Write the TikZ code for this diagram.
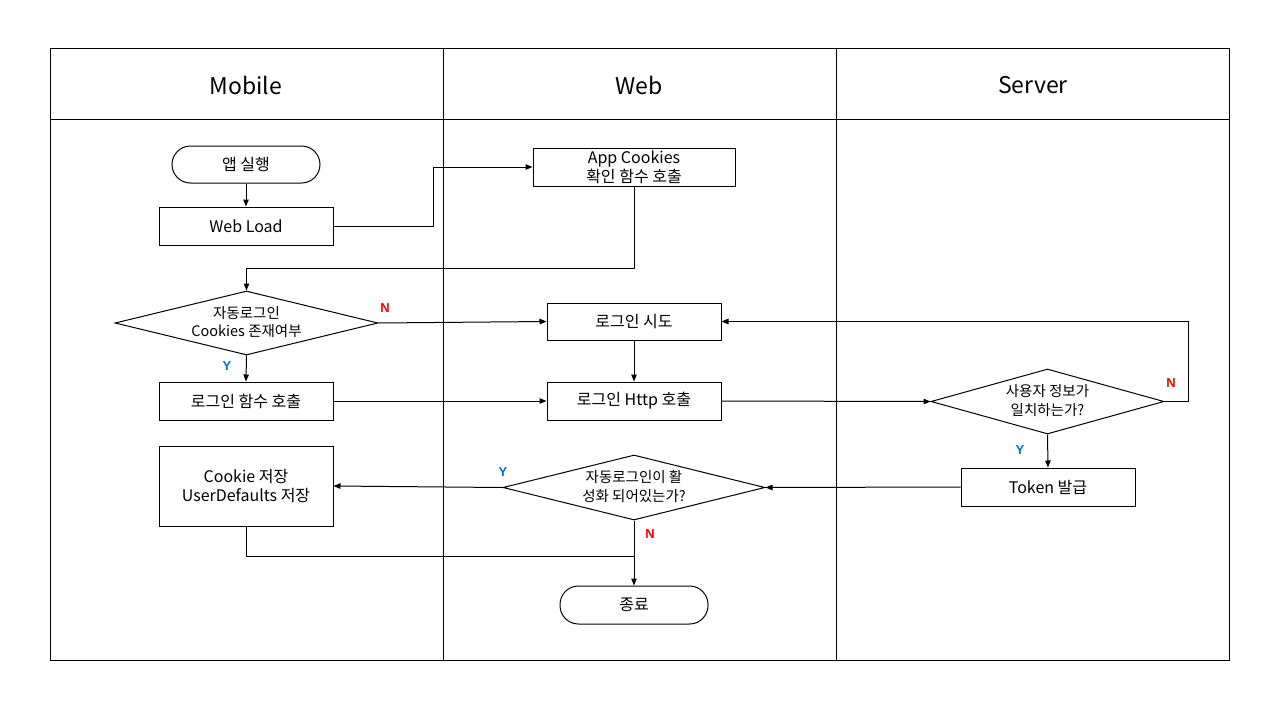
\documentclass[tikz,border=0pt]{standalone}
\usepackage{fontspec}
\setmainfont{Noto Sans CJK KR}
\newfontfamily\labfont{Liberation Sans}
\usetikzlibrary{shapes.geometric,arrows.meta}
\definecolor{yblue}{HTML}{0070C0}
\definecolor{nred}{HTML}{FF0000}
\newcommand\dtext[1]{\makebox[0pt]{\raisebox{-0.32em}[0pt][0pt]{\begin{tabular}{@{}c@{}}#1\end{tabular}}}}
\begin{document}
\begin{tikzpicture}[x=1pt,y=-1pt,
  box/.style={draw,line width=1pt,minimum width=174pt,minimum height=38pt,inner sep=0pt,align=center,font=\fontsize{16}{19}\selectfont},
  term/.style={draw,line width=1pt,rounded corners=18.5pt,minimum width=148pt,minimum height=37pt,inner sep=0pt,font=\fontsize{16}{19}\selectfont},
  dec/.style={draw,diamond,line width=1pt,inner sep=0pt,font=\fontsize{14.5}{18.5}\selectfont},
  arr/.style={line width=1pt,-{Triangle[length=7pt,width=5.5pt]}},
  conn/.style={line width=1pt},
  frame/.style={line width=1pt},
  head/.style={font=\fontsize{23}{26}\selectfont},
  ylab/.style={text=yblue,font=\labfont\bfseries\fontsize{13}{13}\selectfont},
  nlab/.style={text=nred,font=\labfont\bfseries\fontsize{13}{13}\selectfont},
]
\useasboundingbox (0,0) rectangle (1280,720);
% frame
\draw[frame] (50,48) rectangle (1229,660);
\draw[frame] (50,119) -- (1229,119);
\draw[frame] (443,48) -- (443,660);
\draw[frame] (836,48) -- (836,660);
\node[head] (hm) at (246,85) {Mobile};
\node[head] (hw) at (639,85) {Web};
\node[head] (hs) at (1033,85) {Server};
% nodes
\node[term] (start) at (246,164.5) {앱 실행};
\node[box] (wl) at (246,226) {Web Load};
\node[box,minimum width=202pt] (ac) at (634,167) {App Cookies\\확인 함수 호출};
\node[dec,minimum width=263pt,minimum height=64pt] (d1) at (246.5,323) {\dtext{자동로그인\\Cookies 존재여부}};
\node[box,minimum height=37pt] (try) at (634,321.5) {로그인 시도};
\node[box] (lf) at (246,401) {로그인 함수 호출};
\node[box] (http) at (634,401) {로그인 Http 호출};
\node[dec,minimum width=233pt,minimum height=65pt] (d2) at (1047.5,401.5) {\dtext{사용자 정보가\\일치하는가?}};
\node[box] (tok) at (1048,487) {Token 발급};
\node[box,minimum height=80pt] (cs) at (246,486) {Cookie 저장\\UserDefaults 저장};
\node[dec,minimum width=262pt,minimum height=65pt] (d3) at (634,487.5) {\dtext{자동로그인이 활\\성화 되어있는가?}};
\node[term,minimum height=38pt] (end) at (634,605) {종료};
\coordinate (mj) at (634,556);
% connectors
\draw[arr] (start) -- (wl);
\draw[arr] (wl.east) -- ++(100,0) |- (ac.west);
\draw[arr] (ac.south) -- ++(0,82) -| (d1.north);
\draw[arr] (d1.east) -- (try.west);
\draw[arr] (d1.south) -- (lf.north);
\draw[arr] (try) -- (http);
\draw[arr] (lf) -- (http);
\draw[arr] (http.east) -- (d2.west);
\draw[arr] (d2.east) -- ++(24,0) |- (try.east);
\draw[arr] (d2.south) -- (tok.north);
\draw[arr] (tok.west) -- (d3.east);
\draw[arr] (d3.west) -- (cs.east);
\draw[arr] (d3.south) -- (end.north);
\draw[conn] (cs.south) |- (mj);
% labels
\node[nlab] (n1) at (385,308) {N};
\node[ylab] (y1) at (227,366) {Y};
\node[nlab] (n2) at (1171,383) {N};
\node[ylab] (y2) at (1020,450) {Y};
\node[ylab] (y3) at (503,472) {Y};
\node[nlab] (n3) at (650,534) {N};
\end{tikzpicture}
\end{document}
